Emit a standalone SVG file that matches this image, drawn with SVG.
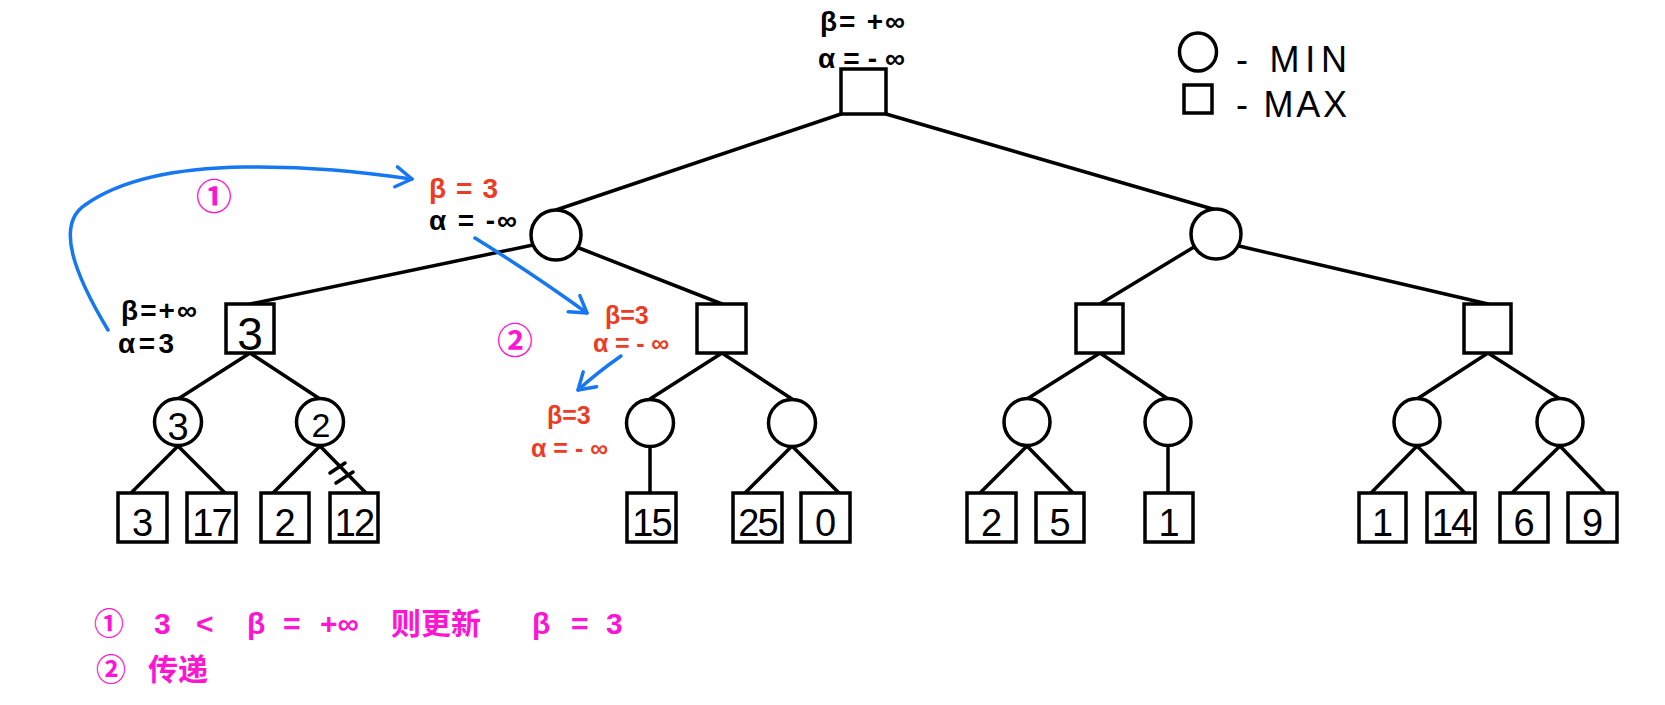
<svg xmlns="http://www.w3.org/2000/svg" width="1665" height="705" viewBox="0 0 1665 705">
<defs>
<style>
.box{fill:#fff;stroke:#000;stroke-width:3.5}
.node{fill:#fff;stroke:#000;stroke-width:3.5}
.edge{stroke:#000;stroke-width:3.5;stroke-linecap:round;fill:none}
.blue{stroke:#1677f2;stroke-width:3.5;stroke-linecap:round;fill:none}
.num{font-family:"Liberation Sans","DejaVu Sans",sans-serif;fill:#000;text-anchor:middle}
.ann{font-family:"Liberation Sans","DejaVu Sans",sans-serif;font-weight:bold;font-size:28px}
.sm{font-size:25px}
.blk{fill:#000}
.red{fill:#ee3b24}
.mag{fill:#ff14d2;font-family:"Liberation Sans","Noto Sans CJK SC",sans-serif;font-weight:bold}
.leg{font-family:"Liberation Sans","DejaVu Sans",sans-serif;font-size:36px;fill:#000}
</style>
<marker id="chev" viewBox="0 0 20 24" refX="18" refY="12" markerWidth="20" markerHeight="24" markerUnits="userSpaceOnUse" orient="auto">
<path d="M2,2 L18,12 L2,22" fill="none" stroke="#1677f2" stroke-width="3.5" stroke-linecap="round" stroke-linejoin="round"/>
</marker>
</defs>
<rect width="1665" height="705" fill="#fff"/>

<g id="connectors">
<line class="edge" x1="841" y1="114" x2="556" y2="210"/>
<line class="edge" x1="886" y1="114" x2="1216" y2="210"/>
<line class="edge" x1="533" y1="245" x2="250" y2="304"/>
<line class="edge" x1="579" y1="248" x2="722" y2="304"/>
<line class="edge" x1="1194" y1="247" x2="1100" y2="304"/>
<line class="edge" x1="1239" y1="246" x2="1488" y2="304"/>
<line class="edge" x1="250" y1="353" x2="178" y2="399"/>
<line class="edge" x1="250" y1="353" x2="320" y2="399"/>
<line class="edge" x1="722" y1="353" x2="650" y2="399"/>
<line class="edge" x1="722" y1="353" x2="792" y2="399"/>
<line class="edge" x1="1100" y1="353" x2="1027" y2="399"/>
<line class="edge" x1="1100" y1="353" x2="1168" y2="399"/>
<line class="edge" x1="1488" y1="353" x2="1417" y2="399"/>
<line class="edge" x1="1488" y1="353" x2="1560" y2="399"/>
<line class="edge" x1="178" y1="446" x2="131" y2="493"/>
<line class="edge" x1="178" y1="446" x2="225" y2="493"/>
<line class="edge" x1="320" y1="446" x2="273" y2="493"/>
<line class="edge" x1="320" y1="446" x2="366" y2="493"/>
<line class="edge" x1="650" y1="446" x2="650" y2="493"/>
<line class="edge" x1="792" y1="446" x2="745" y2="493"/>
<line class="edge" x1="792" y1="446" x2="839" y2="493"/>
<line class="edge" x1="1027" y1="446" x2="980" y2="493"/>
<line class="edge" x1="1027" y1="446" x2="1073" y2="493"/>
<line class="edge" x1="1168" y1="446" x2="1168" y2="493"/>
<line class="edge" x1="1417" y1="446" x2="1371" y2="493"/>
<line class="edge" x1="1417" y1="446" x2="1465" y2="493"/>
<line class="edge" x1="1560" y1="446" x2="1512" y2="493"/>
<line class="edge" x1="1560" y1="446" x2="1605" y2="493"/>
<line class="edge" x1="330" y1="473" x2="345" y2="463"/>
<line class="edge" x1="336" y1="483" x2="353" y2="472"/>
<path class="blue" d="M108,330 C75,275 55,225 85,205 C120,180 175,168 245,167 C310,166 360,172 412,179" marker-end="url(#chev)"/>
<path class="blue" d="M475,238 Q530,272 587,313" marker-end="url(#chev)"/>
<path class="blue" d="M621,356 Q598,372 578,390" marker-end="url(#chev)"/>
</g>

<g id="root">
<rect class="box" x="841" y="69" width="45" height="45"/>
<text class="ann blk" x="820" y="31" textLength="85" lengthAdjust="spacing">β= +∞</text>
<text class="ann blk" x="818" y="68" textLength="87" lengthAdjust="spacing">α=-∞</text>
</g>

<g id="min-left">
<circle class="node" cx="556" cy="235" r="25"/>
<text class="ann red" x="429" y="198" font-size="30" textLength="69" lengthAdjust="spacing">β = 3</text>
<text class="ann blk" x="429" y="230" textLength="88" lengthAdjust="spacing">α = -∞</text>
</g>
<g id="min-right"><circle class="node" cx="1216" cy="234" r="25"/></g>

<g id="max-a">
<rect class="box" x="226" y="304" width="48" height="49"/>
<text class="num" x="250" y="350" font-size="46">3</text>
<text class="ann blk" x="121" y="320" textLength="76" lengthAdjust="spacing">β=+∞</text>
<text class="ann blk" x="118" y="353" textLength="56" lengthAdjust="spacing">α = 3</text>
</g>
<g id="max-b">
<rect class="box" x="697" y="304" width="49" height="49"/>
<text class="ann sm red" x="605" y="324">β=3</text>
<text class="ann sm red" x="593" y="352" textLength="76" lengthAdjust="spacing">α=-∞</text>
</g>
<g id="max-c"><rect class="box" x="1076" y="304" width="47" height="49"/></g>
<g id="max-d"><rect class="box" x="1464" y="304" width="47" height="49"/></g>

<g id="min-a1"><circle class="node" cx="178" cy="422" r="23.5"/><text class="num" x="178" y="440" font-size="38">3</text></g>
<g id="min-a2"><circle class="node" cx="320" cy="422" r="23.5"/><text class="num" x="321" y="437" font-size="34">2</text></g>
<g id="min-b1">
<circle class="node" cx="650" cy="423" r="23.5"/>
<text class="ann sm red" x="547" y="424">β=3</text>
<text class="ann sm red" x="531" y="457" textLength="77" lengthAdjust="spacing">α=-∞</text>
</g>
<g id="min-b2"><circle class="node" cx="792" cy="423" r="23.5"/></g>
<g id="min-c1"><ellipse class="node" cx="1027" cy="422" rx="23" ry="23.5"/></g>
<g id="min-c2"><ellipse class="node" cx="1168" cy="422" rx="23" ry="23.5"/></g>
<g id="min-d1"><ellipse class="node" cx="1417" cy="422" rx="23" ry="23.5"/></g>
<g id="min-d2"><ellipse class="node" cx="1560" cy="422" rx="23" ry="23.5"/></g>

<g id="leaf-3"><rect class="box" x="118" y="493" width="49" height="49"/><text class="num" x="142.5" y="536" font-size="38">3</text></g>
<g id="leaf-17"><rect class="box" x="187" y="493" width="49" height="49"/><text class="num" x="211.5" y="536" font-size="38" letter-spacing="-2">17</text></g>
<g id="leaf-2a"><rect class="box" x="261" y="493" width="48" height="49"/><text class="num" x="285" y="536" font-size="38">2</text></g>
<g id="leaf-12"><rect class="box" x="330" y="493" width="48" height="49"/><text class="num" x="354" y="536" font-size="38" letter-spacing="-2">12</text></g>
<g id="leaf-15"><rect class="box" x="627" y="493" width="49" height="49"/><text class="num" x="651.5" y="536" font-size="38" letter-spacing="-2">15</text></g>
<g id="leaf-25"><rect class="box" x="733" y="493" width="49" height="49"/><text class="num" x="757.5" y="536" font-size="38" letter-spacing="-2">25</text></g>
<g id="leaf-0"><rect class="box" x="801" y="493" width="49" height="49"/><text class="num" x="825.5" y="536" font-size="38">0</text></g>
<g id="leaf-2b"><rect class="box" x="967" y="493" width="49" height="49"/><text class="num" x="991.5" y="536" font-size="38">2</text></g>
<g id="leaf-5"><rect class="box" x="1036" y="493" width="48" height="49"/><text class="num" x="1060" y="536" font-size="38">5</text></g>
<g id="leaf-1a"><rect class="box" x="1145" y="493" width="48" height="49"/><text class="num" x="1169" y="536" font-size="38">1</text></g>
<g id="leaf-1b"><rect class="box" x="1359" y="493" width="47" height="49"/><text class="num" x="1382.5" y="536" font-size="38">1</text></g>
<g id="leaf-14"><rect class="box" x="1427" y="493" width="48" height="49"/><text class="num" x="1451" y="536" font-size="38" letter-spacing="-2">14</text></g>
<g id="leaf-6"><rect class="box" x="1500" y="493" width="48" height="49"/><text class="num" x="1524" y="536" font-size="38">6</text></g>
<g id="leaf-9"><rect class="box" x="1568" y="493" width="49" height="49"/><text class="num" x="1592.5" y="536" font-size="38">9</text></g>

<g id="step-labels">
<text class="mag" x="214" y="210" font-size="36" text-anchor="middle">①</text>
<text class="mag" x="515" y="354" font-size="36" text-anchor="middle">②</text>
</g>

<g id="legend">
<ellipse class="node" cx="1198" cy="52" rx="18.5" ry="19"/>
<rect class="box" x="1184" y="85" width="28" height="28"/>
<text class="leg" x="1236" y="72" textLength="111" lengthAdjust="spacing">- MIN</text>
<text class="leg" x="1236" y="117" textLength="111" lengthAdjust="spacing">- MAX</text>
</g>

<g id="notes">
<text class="mag" y="634" font-size="30"><tspan x="94">① </tspan><tspan x="154">3 </tspan><tspan x="196">&lt; </tspan><tspan x="247">β </tspan><tspan x="283">= </tspan><tspan x="320">+∞ </tspan><tspan x="391">则更新 </tspan><tspan x="532">β </tspan><tspan x="571">= </tspan><tspan x="606">3</tspan></text>
<text class="mag" y="680" font-size="30"><tspan x="96">② </tspan><tspan x="148">传递</tspan></text>
</g>
</svg>
